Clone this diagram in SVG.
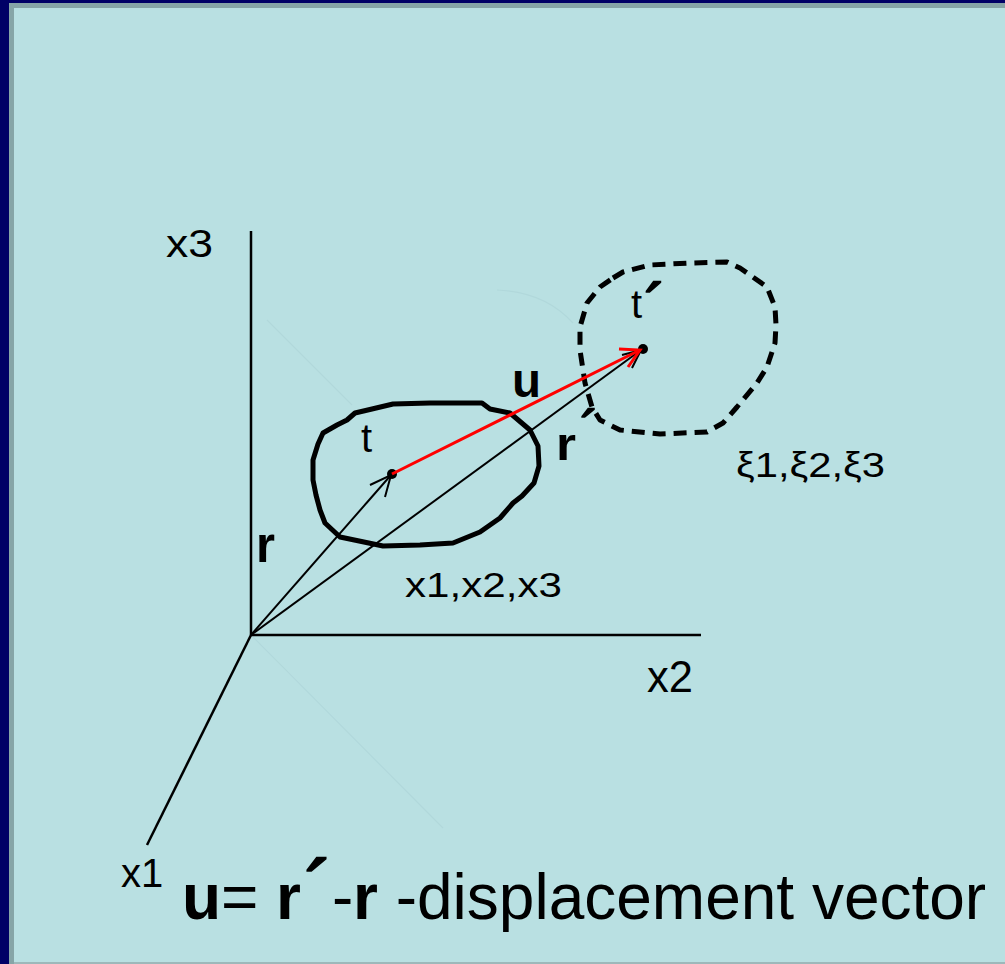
<svg xmlns="http://www.w3.org/2000/svg" width="1005" height="964" viewBox="0 0 1005 964">
  <defs>
    <style>
      .lbl { font-family: "Liberation Sans", Arial, sans-serif; fill: #000; }
      .b { font-weight: bold; }
      .acc { stroke: #000; stroke-width: 1.5; }
      .axis { stroke: #000; stroke-width: 2.5; fill: none; }
      .vec { stroke: #000; stroke-width: 2; fill: none; }
      .faint { stroke: #b1d8db; stroke-width: 1.2; fill: none; }
    </style>
  </defs>

  <!-- background and border -->
  <rect x="0" y="0" width="1005" height="964" fill="#000066"/>
  <rect x="9" y="3" width="996" height="961" fill="#86a5a7"/>
  <rect x="14" y="8" width="991" height="954" fill="#b9e0e2"/>
  <rect x="14" y="962" width="991" height="2" fill="#9db8ba"/>

  <!-- faint watermark strokes -->
  <g id="faint">
    <line class="faint" x1="267" y1="320" x2="352" y2="405"/>
    <line class="faint" x1="252" y1="636" x2="443" y2="828"/>
    <path class="faint" d="M497,290 Q545,292 573,323"/>
  </g>

  <!-- axes -->
  <g id="axes">
    <line class="axis" x1="251" y1="231" x2="251" y2="635"/>
    <line class="axis" x1="250" y1="635" x2="701" y2="635"/>
    <line class="axis" x1="251" y1="635" x2="147" y2="845"/>
  </g>

  <!-- body at t (solid) -->
  <g id="body-t">
    <path d="M355,413 L372,409 L393,404 L430,403 L482,403 L490,409 L510,413 L530,430 L538,446 L539,466 L534,483 L522,496 L513,503 L500,518 L480,532 L453,543 L420,545 L383,546 L340,537 L325,523 L320,510 L316,495 L313,480 L313,460 L318,444 L323,433 L337,425 L347,420 Z" fill="none" stroke="#000" stroke-width="5" stroke-linejoin="round"/>
    <circle cx="392" cy="474" r="5" fill="#000"/>
  </g>

  <!-- body at t' (dashed) -->
  <g id="body-t-prime">
    <path d="M613,278 L623,272 L650,265 L690,263 L727,262 L740,268 L767,287 L775,307 L776,325 L775,343 L767,367 L757,383 L737,407 L723,423 L707,432 L660,434 L620,430 L600,420 L592,407 L585,383 L580,350 L580,327 L587,303 L600,287 Z" fill="none" stroke="#000" stroke-width="5" stroke-dasharray="13,8" stroke-linejoin="round"/>
    <circle cx="643" cy="349" r="5" fill="#000"/>
  </g>

  <!-- connectors / vectors -->
  <g id="connectors">
    <line class="vec" x1="251" y1="635" x2="391" y2="475"/>
    <polyline class="vec" points="370,485 391,475 385,497"/>
    <line class="vec" x1="251" y1="635" x2="641" y2="350"/>
    <polyline class="vec" points="622,355 641,350 632,368"/>
    <line x1="392" y1="474" x2="640" y2="350" stroke="#ff0000" stroke-width="3"/>
    <polyline points="619,349 640,350 628,367" fill="none" stroke="#ff0000" stroke-width="3"/>
  </g>

  <!-- labels -->
  <g id="labels">
    <text class="lbl" x="166" y="257" font-size="38" textLength="47" lengthAdjust="spacingAndGlyphs">x3</text>
    <text class="lbl" x="647" y="692" font-size="44" textLength="46" lengthAdjust="spacingAndGlyphs">x2</text>
    <text class="lbl" x="121" y="887" font-size="40">x1</text>
    <text class="lbl" x="405" y="597" font-size="35" textLength="157" lengthAdjust="spacingAndGlyphs">x1,x2,x3</text>
    <text class="lbl" x="736" y="477" font-size="35" textLength="149" lengthAdjust="spacingAndGlyphs">ξ1,ξ2,ξ3</text>
    <text class="lbl" x="361" y="452" font-size="40">t</text>
    <text class="lbl" x="631" y="318" font-size="40">t<tspan class="acc" x="644" y="332" font-size="68">´</tspan></text>
    <text class="lbl b" x="512" y="397" font-size="48" textLength="29" lengthAdjust="spacingAndGlyphs">u</text>
    <text class="lbl b" x="256" y="562" font-size="52" textLength="19" lengthAdjust="spacingAndGlyphs">r</text>
    <text class="lbl b" x="556" y="460" font-size="46" textLength="20" lengthAdjust="spacingAndGlyphs">r</text>
    <text class="lbl acc" x="580" y="451" font-size="58">´</text>
    <text class="lbl" x="182" y="919" font-size="64"><tspan class="b">u</tspan>= <tspan class="b" x="276">r</tspan><tspan class="acc" x="304" y="924" font-size="90">´</tspan><tspan x="332" y="919">-</tspan><tspan class="b" x="353">r</tspan> -displacement vector</text>
  </g>
</svg>
